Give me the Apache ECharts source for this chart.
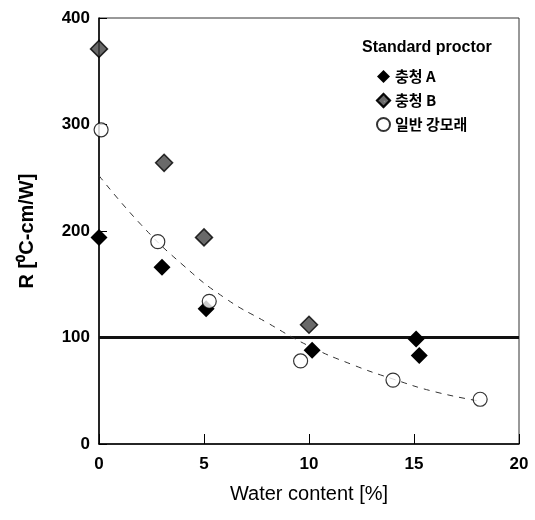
<!DOCTYPE html>
<html><head><meta charset="utf-8">
<script src="https://cdn.jsdelivr.net/npm/echarts@6/dist/echarts.min.js"></script>
<style>html,body{margin:0;padding:0;background:#fff}#c{width:535px;height:520px}</style>
</head><body><div id="c"></div>
<script>
// Data
const seriesNames = ['충청 A', '충청 B', '일반 강모래'];
const dataA = [[0, 194], [3.0, 166], [5.1, 127], [10.15, 88], [15.1, 98.5], [15.25, 83]];
const dataB = [[0, 371], [3.1, 264], [5.0, 194], [10.0, 112]];
const dataC = [[0.1, 295], [2.8, 190], [5.25, 134], [9.6, 78], [14.0, 60], [18.15, 42]];
const fitX = [0, 2, 4, 6, 8, 10, 12, 14, 16, 18.2];
const fitY = [252, 206, 168, 137, 114, 92, 75, 61, 49, 40];
const refLine = [[0, 100], [20, 100]];
const xTicks = [0, 5, 10, 15, 20];
const yTicks = [0, 100, 200, 300, 400];

const chart = echarts.init(document.getElementById('c'));
const lblFont = {fontFamily: 'Liberation Sans, Arial', fontWeight: 'bold', fontSize: 17, color: '#000'};
chart.setOption({
  animation: false,
  title: {text: 'Standard proctor', left: 357, top: 35,
    textStyle: {fontFamily: 'Liberation Sans, Arial', fontWeight: 'bold', fontSize: 16, color: '#000'}},
  legend: {
    data: seriesNames, orient: 'vertical', left: 371, top: 64, itemGap: 9,
    itemWidth: 13, itemHeight: 13,
    textStyle: {fontFamily: 'Noto Sans CJK KR', fontWeight: 'bold', fontSize: 15, color: '#000'}
  },
  grid: {left: 99, right: 16, top: 18, bottom: 76, show: true, borderColor: '#333', borderWidth: 1},
  xAxis: {
    type: 'value', min: 0, max: 20, interval: 5,
    name: 'Water content [%]', nameLocation: 'middle', nameGap: 40,
    nameTextStyle: {fontFamily: 'Liberation Sans, Arial', fontSize: 20, color: '#000'},
    axisLine: {show: true, lineStyle: {color: '#000', width: 1.5}},
    axisTick: {show: true, inside: true, length: 10, lineStyle: {color: '#000', width: 1}},
    axisLabel: Object.assign({margin: 12, formatter: v => xTicks.includes(v) ? String(v) : ''}, lblFont),
    splitLine: {show: false}
  },
  yAxis: {
    type: 'value', min: 0, max: 400, interval: 100,
    name: 'R [⁰C-cm/W]', nameLocation: 'middle', nameGap: 62,
    nameTextStyle: {fontFamily: 'Liberation Sans, Arial', fontWeight: 'bold', fontSize: 20, color: '#000'},
    axisLine: {show: true, lineStyle: {color: '#000', width: 1.5}},
    axisTick: {show: true, inside: true, length: 8, lineStyle: {color: '#000', width: 1}},
    axisLabel: Object.assign({margin: 9, formatter: v => yTicks.includes(v) ? String(v) : ''}, lblFont),
    splitLine: {show: false}
  },
  series: [
    {name: 'ref', type: 'line', data: refLine, symbol: 'none', silent: true,
      lineStyle: {color: '#111', width: 3}, z: 1},
    {name: 'fit', type: 'line', data: fitX.map((x, i) => [x, fitY[i]]), symbol: 'none', smooth: true, silent: true,
      lineStyle: {color: '#333', width: 1, type: [6, 6]}, z: 1},
    {name: seriesNames[0], type: 'scatter', data: dataA, symbol: 'diamond', symbolSize: 17,
      itemStyle: {color: '#000', opacity: 1}, z: 3},
    {name: seriesNames[1], type: 'scatter', data: dataB, symbol: 'diamond', symbolSize: 17,
      itemStyle: {color: '#444', borderColor: '#000', borderWidth: 1.5,
        decal: {symbol: 'rect', symbolSize: 0.5, color: '#999', dashArrayX: 3, dashArrayY: 3}}, z: 3},
    {name: seriesNames[2], type: 'scatter', data: dataC, symbol: 'circle', symbolSize: 14,
      itemStyle: {color: '#fff', borderColor: '#000', borderWidth: 1.2}, z: 4}
  ]
});
</script></body></html>
